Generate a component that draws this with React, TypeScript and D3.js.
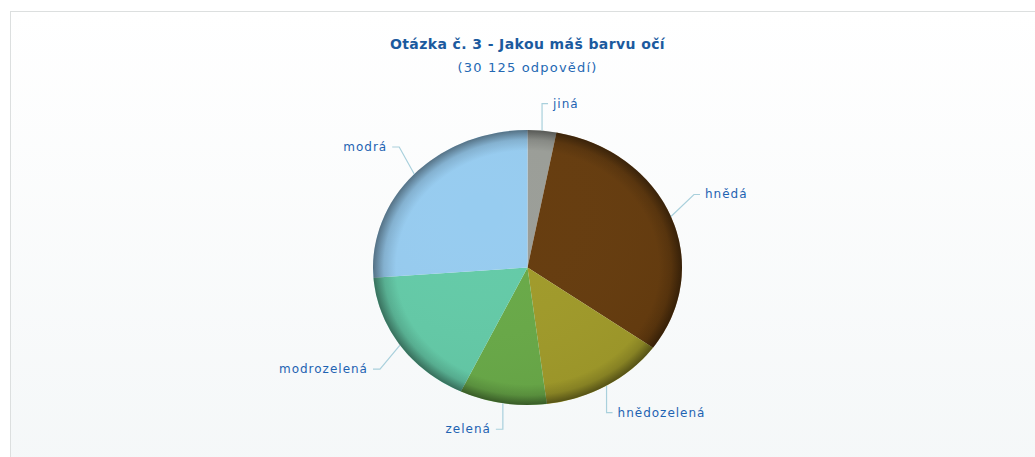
import React from "react";
import * as d3 from "d3";

const title = "Otázka č. 3 - Jakou máš barvu očí";
const subtitle = "(30 125 odpovědí)";
const categories = ["jiná", "hnědá", "hnědozelená", "zelená", "modrozelená", "modrá"];
const counts = [904, 9610, 3946, 2741, 5031, 7893];
const colors = ["#9b9e98", "#663c0e", "#a19b2a", "#69aa48", "#64cba8", "#97ccf0"];
// label elbow offsets from the rim point (layout)
const labelOffsets: [number, number][] = [
  [0, -27],
  [23, -22],
  [0, 27],
  [0, 26],
  [-20, 24],
  [-15, -27],
];

const W = 1035;
const H = 457;
const cx = 527.5;
const cy = 267.5;
const rx = 154.5;
const ry = 137.5;

export default function App() {
  const data = categories.map((c, i) => ({ name: c, value: counts[i], color: colors[i], off: labelOffsets[i] }));
  const pie = d3.pie<any>().sort(null).value((d: any) => d.value).startAngle(0).endAngle(Math.PI * 2);
  const arcs = pie(data);
  const arc = d3.arc<any>().innerRadius(0).outerRadius(rx);
  const font = "'DejaVu Sans', Verdana, sans-serif";

  return (
    <div style={{ position: "fixed", left: 0, top: 0, width: W, height: H, overflow: "hidden", background: "#ffffff" }}>
      <svg width={W} height={H} style={{ display: "block" }}>
        <defs>
          <linearGradient id="bg" x1="0" y1="0" x2="0" y2="1">
            <stop offset="0" stopColor="#ffffff" />
            <stop offset="1" stopColor="#f4f7f8" />
          </linearGradient>
          <radialGradient id="rim" cx="0.5" cy="0.5" r="0.5">
            <stop offset="0" stopColor="#000" stopOpacity={0} />
            <stop offset="0.85" stopColor="#000" stopOpacity={0} />
            <stop offset="0.93" stopColor="#000" stopOpacity={0.13} />
            <stop offset="1" stopColor="#000" stopOpacity={0.45} />
          </radialGradient>
          <radialGradient id="hl" cx="0.35" cy="0.3" r="0.75">
            <stop offset="0" stopColor="#fff" stopOpacity={0.0} />
            <stop offset="1" stopColor="#000" stopOpacity={0.05} />
          </radialGradient>
        </defs>
        <rect x={10.5} y={11.5} width={W + 20} height={H + 20} fill="url(#bg)" stroke="#dcdfdf" />
        <text x={cx} y={44} textAnchor="middle" dominantBaseline="central" fontFamily={font} fontWeight="bold" fontSize={14} fill="#1b5a9e" letterSpacing={0.4}>
          {title}
        </text>
        <text x={cx} y={67} textAnchor="middle" dominantBaseline="central" fontFamily={font} fontSize={13} fill="#2468b3" letterSpacing={1.2}>
          {subtitle}
        </text>
        <g transform={`translate(${cx},${cy}) scale(1,${ry / rx})`}>
          {arcs.map((a, i) => (
            <path key={i} d={arc(a) || ""} fill={a.data.color} />
          ))}
          <circle r={rx} fill="url(#rim)" />
          <circle r={rx} fill="url(#hl)" />
        </g>
        {arcs.map((a, i) => {
          const mid = (a.startAngle + a.endAngle) / 2;
          const px = cx + rx * Math.sin(mid);
          const py = cy - ry * Math.cos(mid);
          const ex = px + a.data.off[0];
          const ey = py + a.data.off[1];
          const right = Math.sin(mid) >= 0;
          const hx = ex + (right ? 6 : -7);
          const tx = hx + (right ? 5 : -5);
          return (
            <g key={"l" + i}>
              <polyline points={`${px},${py} ${ex},${ey} ${hx},${ey}`} fill="none" stroke="#a9d0dc" strokeWidth={1.2} />
              <text x={tx} y={ey} textAnchor={right ? "start" : "end"} dominantBaseline="central" fontFamily={font} fontSize={12} fill="#1e63b2" letterSpacing={1.0}>
                {a.data.name}
              </text>
            </g>
          );
        })}
      </svg>
    </div>
  );
}
